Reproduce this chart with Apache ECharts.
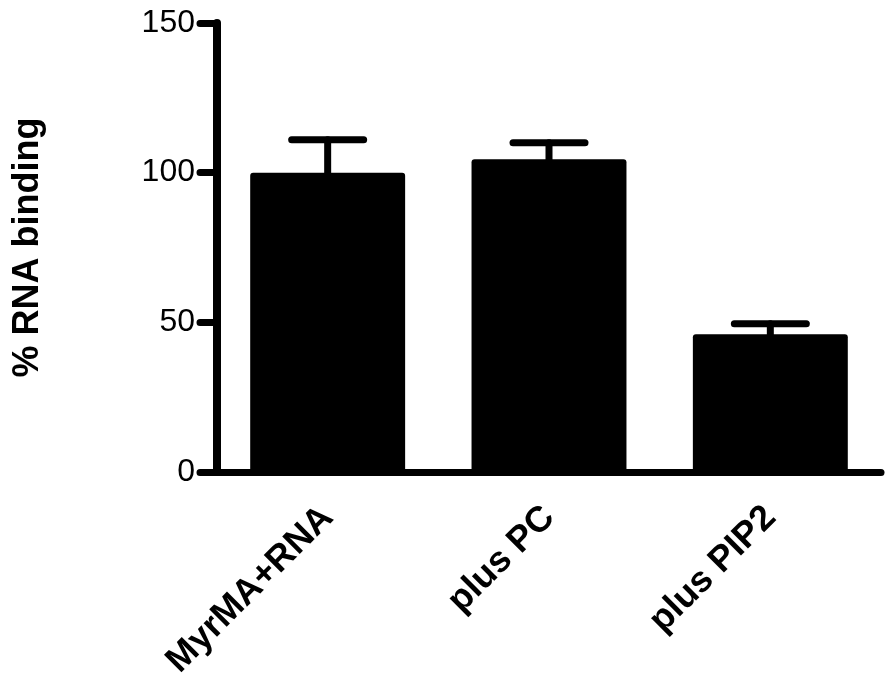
<!DOCTYPE html>
<html>
<head>
<meta charset="utf-8">
<script src="https://cdn.jsdelivr.net/npm/echarts@6/dist/echarts.min.js"></script>
<style>
  html, body { margin: 0; padding: 0; background: #fff; }
  #chart { width: 892px; height: 686px; }
</style>
</head>
<body>
<div id="chart"></div>
<script>
var categories = ['MyrMA+RNA', 'plus PC', 'plus PIP2'];
var values = [100, 104.5, 46];
var errors = [11, 5.5, 3.5];
var yTicks = [0, 50, 100, 150];

var chart = echarts.init(document.getElementById('chart'));

// error bar: vertical line from bar top + cap
function renderError(params, api) {
    var idx = api.value(0);
    var top = api.coord([idx, api.value(1) + api.value(2)]);
    var base = api.coord([idx, api.value(1)]);
    var capHalf = 36;
    var style = { stroke: '#000', lineWidth: 7, lineCap: 'round' };
    return {
        type: 'group',
        children: [
            { type: 'line', shape: { x1: base[0], y1: base[1], x2: top[0], y2: top[1] }, style: style },
            { type: 'line', shape: { x1: top[0] - capHalf, y1: top[1], x2: top[0] + capHalf, y2: top[1] }, style: style }
        ]
    };
}

var errData = [];
for (var i = 0; i < values.length; i++) {
    errData.push([i, values[i], errors[i]]);
}

var option = {
    animation: false,
    grid: { left: 217, right: 11, top: 23, bottom: 214, containLabel: false },
    xAxis: {
        type: 'category',
        data: categories,
        axisLine: { lineStyle: { color: '#000', width: 7 } },
        axisTick: { alignWithLabel: true, length: 16, lineStyle: { color: '#000', width: 7, cap: 'round' } },
        axisLabel: {
            rotate: 45, margin: 40, color: '#000',
            fontFamily: 'Liberation Sans', fontWeight: 'bold', fontSize: 36
        }
    },
    yAxis: {
        type: 'value',
        min: yTicks[0], max: yTicks[yTicks.length - 1], interval: 50,
        name: '% RNA binding',
        nameLocation: 'middle',
        nameRotate: 90,
        nameGap: 171,
        nameTextStyle: { color: '#000', fontFamily: 'Liberation Sans', fontWeight: 'bold', fontSize: 36 },
        axisLine: { show: true, lineStyle: { color: '#000', width: 8 } },
        axisTick: { show: true, length: 17, lineStyle: { color: '#000', width: 7, cap: 'round' } },
        axisLabel: { margin: 22, color: '#000', fontFamily: 'Liberation Sans', fontSize: 32 },
        splitLine: { show: false }
    },
    series: [
        {
            type: 'bar',
            data: values,
            barWidth: '70%',
            itemStyle: { color: '#000', borderRadius: 3 },
            z: 2
        },
        {
            type: 'custom',
            data: errData,
            renderItem: renderError,
            encode: { x: 0, y: 1 },
            z: 1
        }
    ]
};
chart.setOption(option);
</script>
</body>
</html>
